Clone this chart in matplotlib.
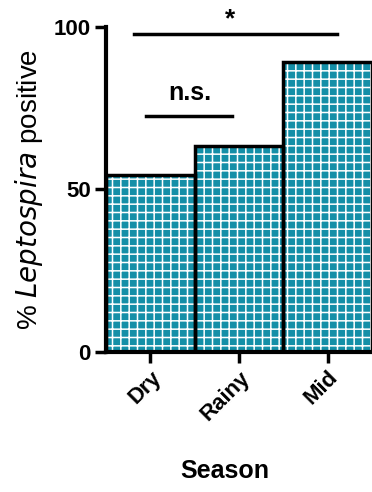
import numpy as np
import matplotlib
matplotlib.use('Agg')
import matplotlib.pyplot as plt

seasons = ['Dry', 'Rainy', 'Mid']
pct_positive = [54.4, 63.4, 89.1]
yticks = [0, 50, 100]

plt.rcParams['font.family'] = ['Liberation Sans', 'DejaVu Sans']
plt.rcParams['hatch.linewidth'] = 1.1

fig = plt.figure(figsize=(3.72, 4.92), dpi=100)
ax = fig.add_axes([0.285, 0.285, 0.715, 0.66])

x = np.arange(len(seasons))
# teal fill with white grid hatch, then black outline on top
ax.bar(x, pct_positive, width=1.0, facecolor='#148fa7', edgecolor='white',
       linewidth=0, hatch='++', zorder=2)
ax.bar(x, pct_positive, width=1.0, facecolor='none', edgecolor='black',
       linewidth=2.5, zorder=3)

ax.set_xlim(-0.5, 2.5)
ax.set_ylim(0, 100)
ax.set_yticks(yticks)
ax.set_xticks(x)
ax.set_xticklabels(seasons, rotation=45, ha='right', rotation_mode='anchor',
                   fontsize=16, fontweight='bold')
ax.set_yticklabels([str(t) for t in yticks], fontsize=16, fontweight='bold')
ax.tick_params(axis='both', width=2.5, length=8, color='black', pad=3)

for s in ['top', 'right']:
    ax.spines[s].set_visible(False)
for s in ['left', 'bottom']:
    ax.spines[s].set_linewidth(3)

ax.set_ylabel('% $\\it{Leptospira}$ positive', fontsize=20, labelpad=6)
ax.set_xlabel('Season', fontsize=18, fontweight='bold')
ax.xaxis.set_label_coords(0.447, -0.33)

# significance brackets
ax.plot([-0.18, 2.1], [98.0, 98.0], color='black', lw=2.5, clip_on=False)
ax.text(0.9, 98.6, '*', ha='center', va='bottom', fontsize=19, fontweight='bold')
ax.plot([-0.045, 0.92], [72.6, 72.6], color='black', lw=2.5, clip_on=False)
ax.text(0.44, 76, 'n.s.', ha='center', va='bottom', fontsize=18, fontweight='bold')

fig.savefig('out.png', dpi=100)
